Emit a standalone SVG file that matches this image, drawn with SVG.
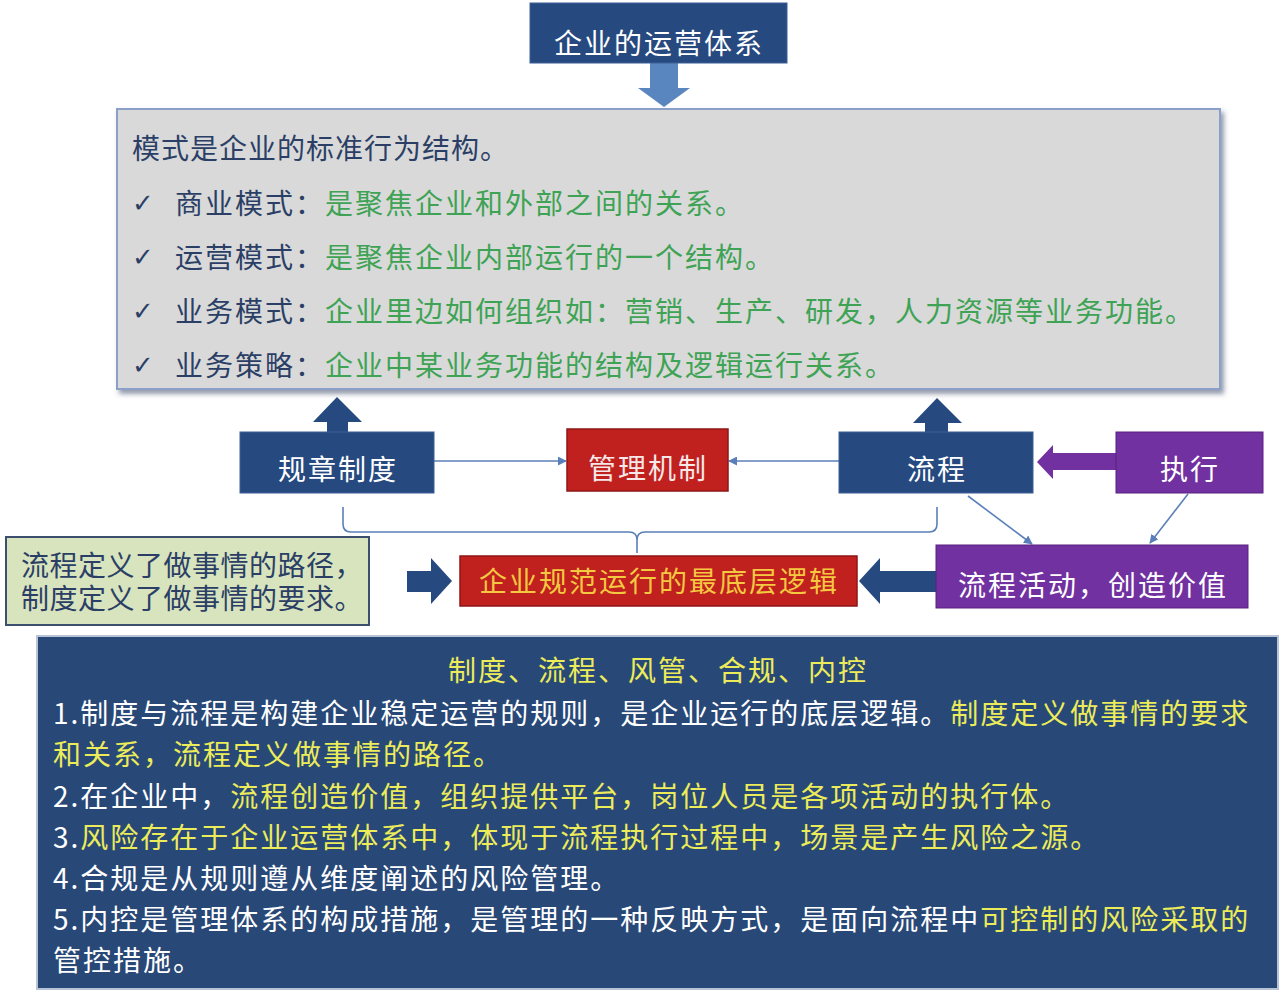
<svg xmlns="http://www.w3.org/2000/svg" width="1280" height="996" viewBox="0 0 1280 996">
<defs>
<style>
.t{font-family:"Noto Sans CJK SC","Noto Sans",sans-serif;font-size:28px;letter-spacing:2px}
.w{fill:#ffffff}
.nv{fill:#2b3f66}
.gr{fill:#3ea354}
.yl{fill:#ecec5a}
.navy{fill:#264a80;stroke:#3a5e96;stroke-width:1}
.red{fill:#c0201e;stroke:#8e1616;stroke-width:1.5}
.pur{fill:#7131a0;stroke:#5a2080;stroke-width:1}
.thin{stroke:#5a7fb8;stroke-width:1.6;fill:none}
.chk{font-family:"DejaVu Sans",sans-serif;font-size:26px;font-weight:bold;fill:#2b3f66}
</style>
<marker id="ah" viewBox="0 0 10 10" refX="9" refY="5" markerWidth="9" markerHeight="9" markerUnits="userSpaceOnUse" orient="auto">
<path d="M0,0 L10,5 L0,10 z" fill="#5a7fb8"/>
</marker>
<filter id="sh" x="-5%" y="-5%" width="110%" height="115%">
<feDropShadow dx="3" dy="4" stdDeviation="2.5" flood-color="#3a4a66" flood-opacity="0.55"/>
</filter>
</defs>
<rect width="1280" height="996" fill="#ffffff"/>

<g id="connectors">
<polygon points="650,63 678,63 678,88 690,88 664,107 638,88 650,88" fill="#5a86c0"/>
<polygon points="327,433 348,433 348,422 362,422 337,397 313,422 327,422" fill="#264a80"/>
<polygon points="925,433 948,433 948,423 962,423 937,398 913,423 925,423" fill="#264a80"/>
<line x1="434" y1="461" x2="566" y2="461" class="thin" marker-end="url(#ah)"/>
<line x1="839" y1="461" x2="729" y2="461" class="thin" marker-end="url(#ah)"/>
<line x1="968" y1="496" x2="1032" y2="544" class="thin" marker-end="url(#ah)"/>
<line x1="1188" y1="494" x2="1150" y2="543" class="thin" marker-end="url(#ah)"/>
<polygon points="1116,453 1053,453 1053,445 1037,462 1053,479 1053,470 1116,470" fill="#7131a0"/>
<path d="M343,507 L343,524 Q343,532 351,532 L629,532 Q637,532 637,540 L637,553 L637,540 Q637,532 645,532 L929,532 Q937,532 937,524 L937,507" class="thin" stroke-width="1.4"/>
<polygon points="407,571 431,571 431,558 452,581 431,604 431,592 407,592" fill="#264a80"/>
<polygon points="936,571 880,571 880,558 859,581 880,604 880,592 936,592" fill="#264a80"/>
</g>

<g id="n-top">
<rect x="530" y="3" width="257" height="60" class="navy"/>
<text x="659" y="54" class="t w" text-anchor="middle" font-size="29">企业的运营体系</text>
</g>

<g id="n-modes">
<rect x="117" y="109" width="1103" height="280" fill="#d9d9d9" stroke="#8aa0c8" stroke-width="2" filter="url(#sh)"/>
<text x="132" y="159" class="t nv" style="letter-spacing:1px">模式是企业的标准行为结构。</text>
<text x="132" y="212" class="chk">✓</text>
<text x="175" y="214" class="t"><tspan class="nv">商业模式：</tspan><tspan class="gr">是聚焦企业和外部之间的关系。</tspan></text>
<text x="132" y="266" class="chk">✓</text>
<text x="175" y="268" class="t"><tspan class="nv">运营模式：</tspan><tspan class="gr">是聚焦企业内部运行的一个结构。</tspan></text>
<text x="132" y="320" class="chk">✓</text>
<text x="175" y="322" class="t"><tspan class="nv">业务模式：</tspan><tspan class="gr">企业里边如何组织如：营销、生产、研发，人力资源等业务功能。</tspan></text>
<text x="132" y="374" class="chk">✓</text>
<text x="175" y="376" class="t"><tspan class="nv">业务策略：</tspan><tspan class="gr">企业中某业务功能的结构及逻辑运行关系。</tspan></text>
</g>

<g id="n-rules">
<rect x="240" y="432" width="194" height="61" class="navy"/>
<text x="338" y="480" class="t w" text-anchor="middle">规章制度</text>
</g>

<g id="n-mgmt">
<rect x="567" y="429" width="161" height="62" class="red"/>
<text x="648" y="479" class="t" fill="#f6e8e8" text-anchor="middle">管理机制</text>
</g>

<g id="n-process">
<rect x="839" y="432" width="194" height="61" class="navy"/>
<text x="937" y="480" class="t w" text-anchor="middle">流程</text>
</g>

<g id="n-exec">
<rect x="1116" y="432" width="147" height="61" class="pur"/>
<text x="1190" y="480" class="t w" text-anchor="middle">执行</text>
</g>

<g id="n-activity">
<rect x="936" y="545" width="312" height="63" class="pur"/>
<text x="1093" y="596" class="t w" text-anchor="middle">流程活动，创造价值</text>
</g>

<g id="n-logic">
<rect x="460" y="556" width="397" height="50" class="red"/>
<text x="659" y="592" class="t" fill="#f5c842" text-anchor="middle">企业规范运行的最底层逻辑</text>
</g>

<g id="n-define">
<rect x="6" y="537" width="363" height="88" fill="#d7e4bd" stroke="#3d4f6e" stroke-width="2"/>
<text class="t nv" style="letter-spacing:0.5px"><tspan x="21" y="576">流程定义了做事情的路径，</tspan><tspan x="21" y="609">制度定义了做事情的要求。</tspan></text>
</g>

<g id="n-summary">
<rect x="37" y="636" width="1241" height="353" fill="#284878" stroke="#b8c4d6" stroke-width="2"/>
<text x="658" y="681" class="t yl" text-anchor="middle">制度、流程、风管、合规、内控</text>
<text x="53" y="724" class="t"><tspan class="w">1.制度与流程是构建企业稳定运营的规则，是企业运行的底层逻辑。</tspan><tspan class="yl">制度定义做事情的要求</tspan></text>
<text x="53" y="765" class="t yl">和关系，流程定义做事情的路径。</text>
<text x="53" y="807" class="t"><tspan class="w">2.在企业中，</tspan><tspan class="yl">流程创造价值，组织提供平台，岗位人员是各项活动的执行体。</tspan></text>
<text x="53" y="848" class="t"><tspan class="w">3.</tspan><tspan class="yl">风险存在于企业运营体系中，体现于流程执行过程中，场景是产生风险之源。</tspan></text>
<text x="53" y="889" class="t w">4.合规是从规则遵从维度阐述的风险管理。</text>
<text x="53" y="930" class="t"><tspan class="w">5.内控是管理体系的构成措施，是管理的一种反映方式，是面向流程中</tspan><tspan class="yl">可控制的风险采取的</tspan></text>
<text x="53" y="971" class="t w">管控措施。</text>
</g>
</svg>
